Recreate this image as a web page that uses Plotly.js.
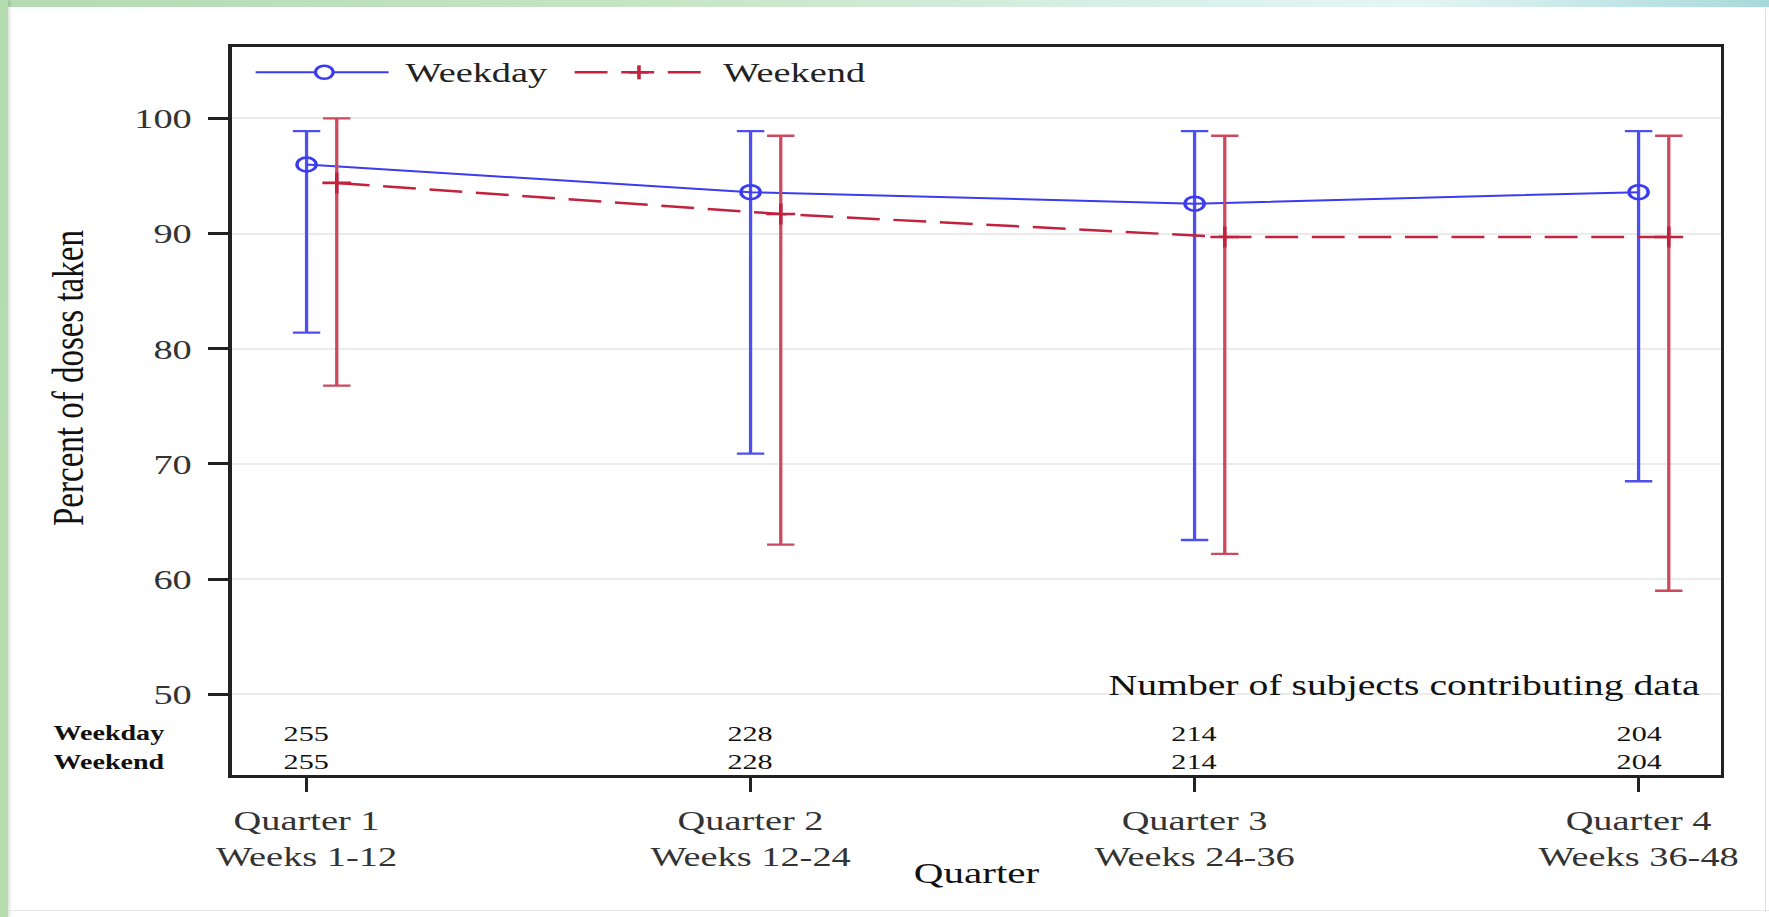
<!DOCTYPE html>
<html>
<head>
<meta charset="utf-8">
<script src="https://cdn.plot.ly/plotly-3.0.1.min.js"></script>
<style>
  html, body { margin: 0; padding: 0; width: 1769px; height: 917px; overflow: hidden; background: #ffffff; }
  #topstrip { position: absolute; left: 0; top: 0; width: 1769px; height: 7px;
    background: linear-gradient(90deg, #b4dbb2 0%, #c4e5c2 35%, #dcf2ee 70%, #e4f6f4 80%, #a8d9da 100%); }
  #leftstrip { position: absolute; left: 0; top: 0; width: 8px; height: 917px;
    background: linear-gradient(180deg, #b4dbb0 0%, #b8ddb0 100%); box-shadow: 2px 0 3px rgba(0,0,0,0.12); }
  #rightline { position: absolute; left: 1765px; top: 7px; width: 1px; height: 905px; background: #e2e2e2; }
  #bottomline { position: absolute; left: 8px; top: 910px; width: 1761px; height: 1px; background: #e6e6e6; }
  #chart { position: absolute; left: 0; top: 0; width: 1291px; height: 917px;
    transform: scaleX(1.37); transform-origin: 0 0; }
</style>
</head>
<body>
<div id="topstrip"></div>
<div id="leftstrip"></div>
<div id="rightline"></div>
<div id="bottomline"></div>
<div id="chart"></div>
<script>
// ---- data ----
const quarters = ['Quarter 1<br>Weeks 1-12', 'Quarter 2<br>Weeks 12-24', 'Quarter 3<br>Weeks 24-36', 'Quarter 4<br>Weeks 36-48'];
const weekdayMean  = [96.0, 93.6, 92.6, 93.6];
const weekdayUpper = [98.9, 98.9, 98.9, 98.9];
const weekdayLower = [81.4, 70.9, 63.4, 68.5];
const weekendMean  = [94.4, 91.7, 89.7, 89.7];
const weekendUpper = [100.0, 98.5, 98.5, 98.5];
const weekendLower = [76.8, 63.0, 62.2, 59.0];
const weekdayN = [255, 228, 214, 204];
const weekendN = [255, 228, 214, 204];
const yTicks = [50, 60, 70, 80, 90, 100];
const seriesNames = ['Weekday', 'Weekend'];
const countTitle = 'Number of subjects contributing data';
const yTitle = 'Percent of doses taken';
const xTitle = 'Quarter';

// ---- styling ----
const FONT = 'Liberation Serif, Times New Roman, serif';
const BLUE = '#3b3bf0', BLUE_ERR = '#4f4ff0';
const RED = '#c2223d', RED_ERR = '#cc4a5e';
const offset = 0.068;

const xPos = quarters.map((_, i) => i + 1);
const xPosWE = xPos.map(v => v + offset);

const traces = [
  {
    type: 'scatter', mode: 'lines+markers', name: seriesNames[0],
    x: xPos, y: weekdayMean,
    line: {color: BLUE, width: 2},
    marker: {symbol: 'circle-open', size: 14, color: BLUE, line: {width: 2.5, color: BLUE}},
    error_y: {type: 'data', symmetric: false,
      array: weekdayUpper.map((u, i) => u - weekdayMean[i]),
      arrayminus: weekdayLower.map((l, i) => weekdayMean[i] - l),
      color: BLUE_ERR, thickness: 2.4, width: 10},
    showlegend: false
  },
  {
    type: 'scatter', mode: 'lines+markers', name: seriesNames[1],
    x: xPosWE, y: weekendMean,
    line: {color: RED, width: 2.5, dash: '24px,10px'},
    marker: {symbol: 'cross-thin-open', size: 15, color: RED, line: {width: 2.6, color: RED}},
    error_y: {type: 'data', symmetric: false,
      array: weekendUpper.map((u, i) => u - weekendMean[i]),
      arrayminus: weekendLower.map((l, i) => weekendMean[i] - l),
      color: RED_ERR, thickness: 2.4, width: 10},
    showlegend: false
  }
];

const annotations = [];
// legend texts
const legY = 0.9652;
annotations.push({xref: 'paper', yref: 'paper', x: 0.1147, y: legY, xanchor: 'left', yanchor: 'middle',
  text: seriesNames[0], showarrow: false, font: {family: FONT, size: 28, color: '#222'}});
annotations.push({xref: 'paper', yref: 'paper', x: 0.3283, y: legY, xanchor: 'left', yanchor: 'middle',
  text: seriesNames[1], showarrow: false, font: {family: FONT, size: 28, color: '#222'}});
// count title
annotations.push({xref: 'paper', yref: 'paper', x: 0.9876, y: 0.124, xanchor: 'right', yanchor: 'middle',
  text: countTitle, showarrow: false, font: {family: FONT, size: 29, color: '#111'}});
// row labels
const rowY = [0.057, 0.0185];
[seriesNames[0], seriesNames[1]].forEach((s, r) => {
  annotations.push({xref: 'paper', yref: 'paper', x: -0.121, y: rowY[r], xanchor: 'left', yanchor: 'middle',
    text: '<b>' + s + '</b>', showarrow: false, font: {family: FONT, size: 20.5, color: '#111'}});
});
// counts
[weekdayN, weekendN].forEach((arr, r) => {
  arr.forEach((n, i) => {
    annotations.push({xref: 'x', yref: 'paper', x: xPos[i], y: rowY[r], xanchor: 'center', yanchor: 'middle',
      text: String(n), showarrow: false, font: {family: FONT, size: 22, color: '#111'}});
  });
});
// y title
annotations.push({xref: 'paper', yref: 'paper', x: (49.8 - 169) / 1087, y: 0.545, xanchor: 'center', yanchor: 'middle',
  textangle: -90, text: yTitle, showarrow: false, font: {family: FONT, size: 33, color: '#111'}});
// x title
annotations.push({xref: 'paper', yref: 'paper', x: 0.5, y: -0.1345, xanchor: 'center', yanchor: 'middle',
  text: xTitle, showarrow: false, font: {family: FONT, size: 30, color: '#111'}});

const shapes = [
  {type: 'line', xref: 'paper', yref: 'paper', x0: 0.0162, x1: 0.1055, y0: legY, y1: legY,
    line: {color: BLUE, width: 2}},
  {type: 'circle', xref: 'paper', yref: 'paper', xsizemode: 'pixel', ysizemode: 'pixel',
    xanchor: 0.0623, yanchor: legY, x0: -6.5, x1: 6.5, y0: -6.5, y1: 6.5,
    fillcolor: '#ffffff', line: {color: BLUE, width: 2.5}},
  {type: 'line', xref: 'paper', yref: 'paper', x0: 0.2304, x1: 0.3163, y0: legY, y1: legY,
    line: {color: RED, width: 2.5, dash: '24px,10px'}},
  {type: 'line', xref: 'paper', yref: 'paper', xsizemode: 'pixel', xanchor: 0.2736, x0: -7, x1: 7, y0: legY, y1: legY,
    line: {color: RED, width: 2.6}},
  {type: 'line', xref: 'paper', yref: 'paper', ysizemode: 'pixel', yanchor: legY, y0: -7, y1: 7, x0: 0.2736, x1: 0.2736,
    line: {color: RED, width: 2.6}}
];

const layout = {
  width: 1291, height: 917,
  margin: {l: 169, r: 35, t: 47, b: 142},
  paper_bgcolor: 'rgba(0,0,0,0)', plot_bgcolor: '#ffffff',
  font: {family: FONT, color: '#222'},
  showlegend: false,
  xaxis: {
    range: [0.831, 4.185], tickmode: 'array', tickvals: xPos, ticktext: quarters,
    ticks: 'outside', ticklen: 14, tickwidth: 2.2, tickcolor: '#222',
    showline: true, mirror: true, linecolor: '#222', linewidth: 3,
    showgrid: false, zeroline: false,
    tickfont: {family: FONT, size: 28, color: '#333'},
    ticklabelstandoff: 4
  },
  yaxis: {
    range: [43, 106.2], tickmode: 'array', tickvals: yTicks,
    ticks: 'outside', ticklen: 15, tickwidth: 3, tickcolor: '#222',
    showline: true, mirror: true, linecolor: '#222', linewidth: 2.4,
    showgrid: true, gridcolor: '#ebebeb', gridwidth: 2, zeroline: false,
    tickfont: {family: FONT, size: 28, color: '#333'},
    ticklabelstandoff: 6
  },
  annotations: annotations,
  shapes: shapes
};

Plotly.newPlot('chart', traces, layout, {displayModeBar: false, staticPlot: true});
</script>
</body>
</html>
